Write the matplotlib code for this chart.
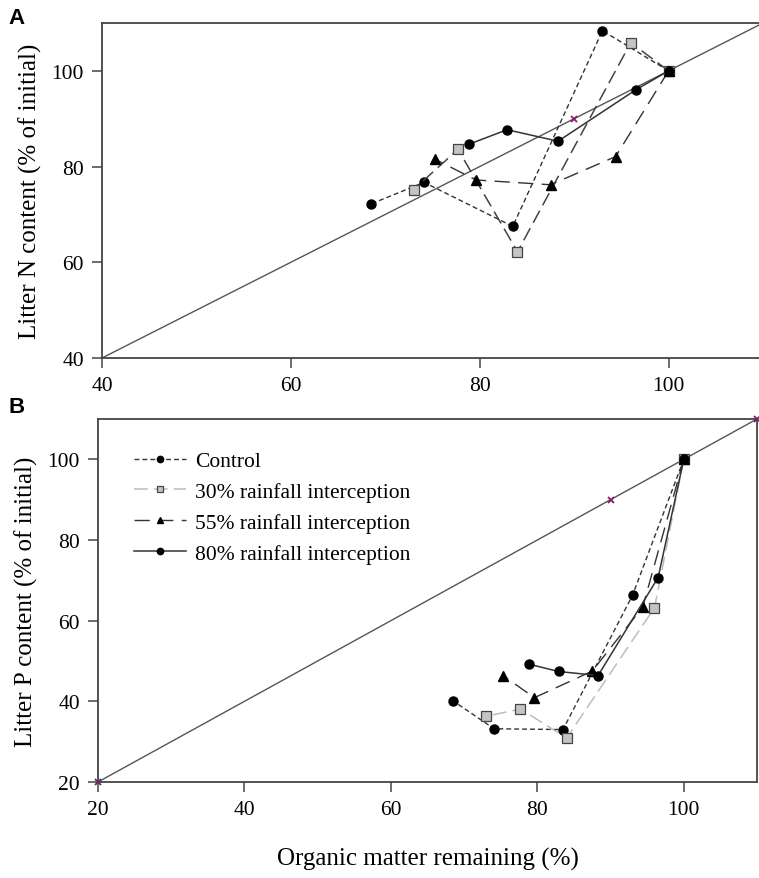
import matplotlib
matplotlib.use("Agg")
import matplotlib.pyplot as plt

plt.rcParams['font.family'] = ['Liberation Serif', 'DejaVu Serif']

# organic matter remaining (%) for each treatment
om_control = [100, 93.0, 83.5, 74.1, 68.5]
om_30 = [100, 96.0, 84.0, 77.7, 73.0]
om_55 = [100, 94.4, 87.5, 79.6, 75.3]
om_80 = [100, 96.5, 88.3, 82.9, 78.9]

# litter N content (% of initial)
n_control = [100, 108.4, 67.5, 76.7, 72.2]
n_30 = [100, 105.9, 62.2, 83.6, 75.2]
n_55 = [100, 82.1, 76.2, 77.2, 81.5]
n_80 = [100, 96.0, 85.3, 87.7, 84.7]

# litter P content (% of initial)
p_control = [100, 66.3, 33.0, 33.2, 40.1]
p_30 = [100, 63.2, 30.9, 38.1, 36.3]
p_55 = [100, 63.4, 47.5, 40.9, 46.4]
p_80 = [100, 70.7, 46.4, 47.4, 49.2]

one_to_one = [20, 90, 110]

labels = ["Control", "30% rainfall interception",
          "55% rainfall interception", "80% rainfall interception"]

W, H = 759, 879
fig = plt.figure(figsize=(W / 100, H / 100), dpi=100)
axA = fig.add_axes([102 / W, 1 - 359 / H, 661 / W, 335 / H])
axB = fig.add_axes([98 / W, 1 - 783 / H, 659 / W, 363 / H])


def draw(ax, ys, col30):
    ax.plot(one_to_one, one_to_one, color='#555555', lw=1.0, zorder=1)
    ax.plot(one_to_one, one_to_one, ls='none', marker='x', ms=5, mew=1.3,
            color='#8a1a70', zorder=2, clip_on=False)
    ax.plot(om_control, ys[0], color='#333333', lw=1.0, dashes=(3.5, 2.2),
            marker='o', ms=6.5, mfc='black', mec='black', label=labels[0])
    ax.plot(om_30, ys[1], color=col30, lw=1.1, dashes=(9, 4),
            marker='s', ms=6.5, mfc='#c4c4c4', mec='#444444', mew=0.9,
            label=labels[1])
    ax.plot(om_55, ys[2], color='#333333', lw=1.0, dashes=(11, 6),
            marker='^', ms=7, mfc='black', mec='black', label=labels[2])
    ax.plot(om_80, ys[3], color='#333333', lw=1.1, ls='-',
            marker='o', ms=6.5, mfc='black', mec='black', label=labels[3])
    for s in ax.spines.values():
        s.set_color('#444444')
        s.set_linewidth(1.3)
    ax.tick_params(direction='out', length=7, width=1.1, color='#444444',
                   labelsize=15.5, pad=6)


draw(axA, [n_control, n_30, n_55, n_80], '#444444')
axA.set_xlim(40, 110)
axA.set_ylim(40, 110)
axA.set_xticks([40, 60, 80, 100])
axA.set_yticks([40, 60, 80, 100])
axA.set_ylabel("Litter N content (% of initial)", fontsize=18, labelpad=7)

draw(axB, [p_control, p_30, p_55, p_80], '#bdbdbd')
axB.set_xlim(20, 110)
axB.set_ylim(20, 110)
axB.set_xticks([20, 40, 60, 80, 100])
axB.set_yticks([20, 40, 60, 80, 100])
axB.set_ylabel("Litter P content (% of initial)", fontsize=18, labelpad=7)
axB.set_xlabel("Organic matter remaining (%)", fontsize=18, labelpad=20)

axB.legend(loc='upper left', bbox_to_anchor=(0.025, 0.965),
           frameon=False, fontsize=15.5, handlelength=2.4, handletextpad=0.45,
           labelspacing=0.5, markerscale=0.7)

fig.text(8 / W, 1 - 18 / H, "A", fontsize=16, fontweight='bold',
         family='Liberation Sans', va='center')
fig.text(8 / W, 1 - 408 / H, "B", fontsize=16, fontweight='bold',
         family='Liberation Sans', va='center')

fig.savefig("out.png", dpi=100)
